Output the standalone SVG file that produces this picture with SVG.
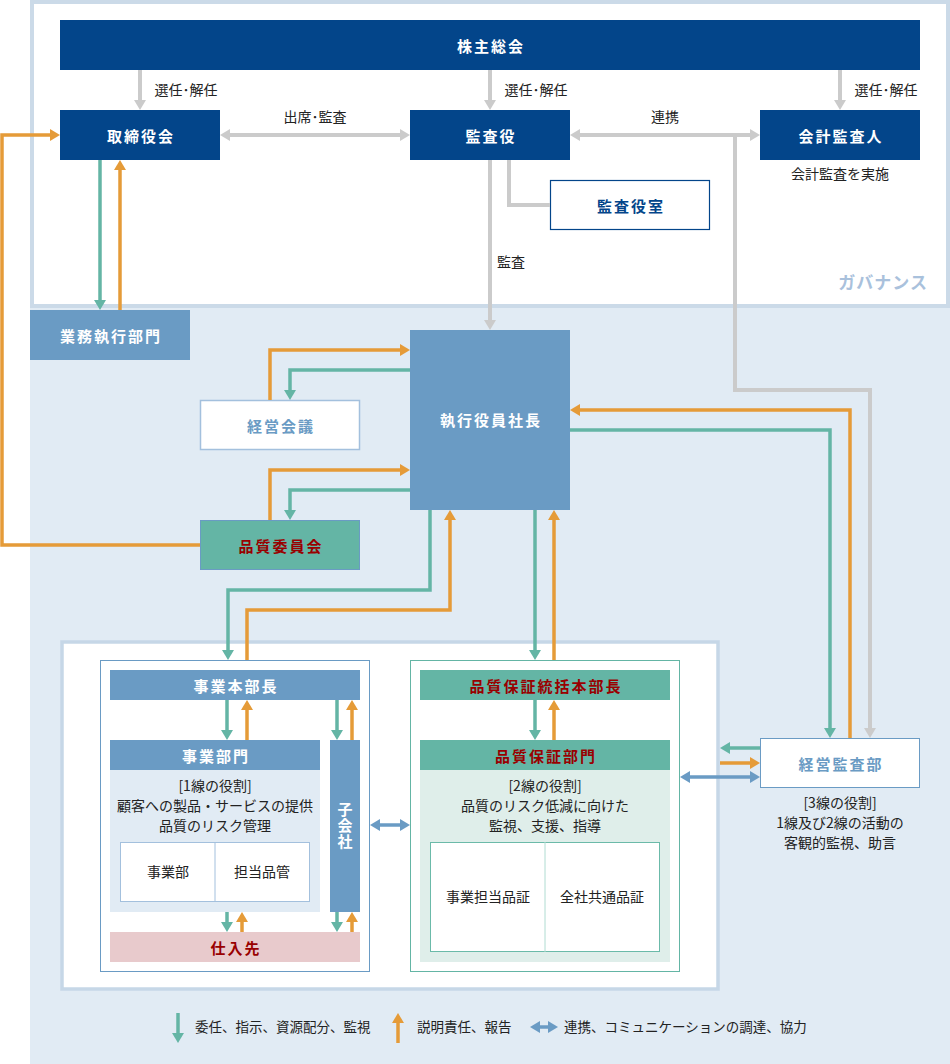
<svg xmlns="http://www.w3.org/2000/svg" width="950" height="1064" viewBox="0 0 950 1064">
<defs>
<style>
text{font-family:"Noto Sans CJK JP","Noto Sans",sans-serif;}
.nl{font-size:15px;font-weight:bold;text-anchor:middle;dominant-baseline:central;letter-spacing:2px;}
.w{fill:#fff;}
.db{fill:#03458a;}
.mb{fill:#6a9bc4;}
.red{fill:#990000;}
.sm{font-size:14px;fill:#222;text-anchor:middle;}
.lg{font-size:13.5px;fill:#222;}
.cg,.ct,.co,.cb{fill:none;}
.cg{stroke:#cbcbcb;stroke-width:4;}
.ct{stroke:#64b5a5;stroke-width:3.5;}
.co{stroke:#e59b38;stroke-width:3.5;}
.cb{stroke:#6a9bc4;stroke-width:3.5;}
.cg.a{marker-end:url(#ag);}
.cg.aa{marker-start:url(#ag);marker-end:url(#ag);}
.ct.a{marker-end:url(#at);}
.co.a{marker-end:url(#ao);}
.cb.aa{marker-start:url(#ab);marker-end:url(#ab);}
</style>
<marker id="ag" viewBox="0 0 10 12" refX="1" refY="6" markerWidth="10" markerHeight="12" markerUnits="userSpaceOnUse" orient="auto-start-reverse"><path d="M0,0L10,6L0,12z" fill="#cbcbcb"/></marker>
<marker id="at" viewBox="0 0 10 12" refX="1" refY="6" markerWidth="10" markerHeight="12" markerUnits="userSpaceOnUse" orient="auto-start-reverse"><path d="M0,0L10,6L0,12z" fill="#64b5a5"/></marker>
<marker id="ao" viewBox="0 0 10 12" refX="1" refY="6" markerWidth="10" markerHeight="12" markerUnits="userSpaceOnUse" orient="auto-start-reverse"><path d="M0,0L10,6L0,12z" fill="#e59b38"/></marker>
<marker id="ab" viewBox="0 0 10 12" refX="1" refY="6" markerWidth="10" markerHeight="12" markerUnits="userSpaceOnUse" orient="auto-start-reverse"><path d="M0,0L10,6L0,12z" fill="#6a9bc4"/></marker>
</defs>

<rect x="0" y="0" width="950" height="1064" fill="#fff"/>
<rect x="30" y="308" width="920" height="756" fill="#e1ebf4"/>
<g id="governance">
<rect x="32" y="2" width="916" height="304" fill="#fff" stroke="#cbdae8" stroke-width="4"/>
<text x="928" y="289" font-size="17" font-weight="bold" fill="#a9c1dc" text-anchor="end" letter-spacing="1">ガバナンス</text>
</g>
<g id="line-box">
<rect x="62" y="642" width="656" height="347" fill="#fff" stroke="#c6d7e7" stroke-width="3.5"/>
</g>

<g id="n-shareholders">
<rect x="60" y="20" width="860" height="50" class="db"/>
<text class="nl w" x="491" y="45" letter-spacing="4">株主総会</text>
</g>
<g id="n-board">
<rect x="60" y="110" width="160" height="50" class="db"/>
<text class="nl w" x="141" y="135">取締役会</text>
</g>
<g id="n-auditor">
<rect x="410" y="110" width="160" height="50" class="db"/>
<text class="nl w" x="491" y="135">監査役</text>
</g>
<g id="n-accounting-auditor">
<rect x="760" y="110" width="160" height="50" class="db"/>
<text class="nl w" x="841" y="135">会計監査人</text>
<text class="sm" x="840" y="179">会計監査を実施</text>
</g>
<g id="n-audit-office">
<rect x="550.5" y="180.5" width="159" height="49" fill="#fff" stroke="#03458a" stroke-width="1.2"/>
<text class="nl db" x="631" y="205">監査役室</text>
</g>
<g id="n-execution">
<rect x="30" y="310" width="160" height="50" class="mb"/>
<text class="nl w" x="111" y="335">業務執行部門</text>
</g>
<g id="n-president">
<rect x="410" y="330" width="160" height="180" class="mb"/>
<text class="nl w" x="491" y="419">執行役員社長</text>
</g>
<g id="n-management-meeting">
<rect x="200.5" y="400.5" width="159" height="49" fill="#fff" stroke="#a3c0dd" stroke-width="1.5"/>
<text class="nl mb" x="281" y="425">経営会議</text>
</g>
<g id="n-quality-committee">
<rect x="200.5" y="520.5" width="159" height="49" fill="#64b5a5" stroke="#6a9bc4" stroke-width="1"/>
<text class="nl red" x="281" y="545">品質委員会</text>
</g>

<g id="n-first-line">
<rect x="100.5" y="660.5" width="269" height="311" fill="#fff" stroke="#6a9bc4" stroke-width="1"/>
</g>
<g id="n-bu-head">
<rect x="110" y="670" width="250" height="30" class="mb"/>
<text class="nl w" x="236" y="685">事業本部長</text>
</g>
<g id="n-bu-dept">
<rect x="110" y="740" width="210" height="30" class="mb"/>
<rect x="110" y="770" width="210" height="142" fill="#e1ebf4"/>
<text class="nl w" x="216" y="755">事業部門</text>
<text class="sm" x="215" y="791">[1線の役割]</text>
<text class="sm" x="215" y="811">顧客への製品・サービスの提供</text>
<text class="sm" x="215" y="831">品質のリスク管理</text>
<rect x="120.5" y="842.5" width="189" height="59" fill="#fff" stroke="#a3c0dd" stroke-width="1"/>
<line x1="215" y1="842" x2="215" y2="902" stroke="#a3c0dd" stroke-width="1"/>
<text class="sm" x="168" y="877">事業部</text>
<text class="sm" x="262" y="877">担当品管</text>
</g>
<g id="n-subsidiary">
<rect x="330" y="740" width="30" height="172" class="mb"/>
<text x="345" y="826" font-size="15" font-weight="bold" fill="#fff" writing-mode="vertical-rl" text-anchor="middle" letter-spacing="1">子会社</text>
</g>
<g id="n-supplier">
<rect x="110" y="932" width="250" height="30" fill="#e8cacc"/>
<text class="nl red" x="236" y="947">仕入先</text>
</g>

<g id="n-second-line">
<rect x="410.5" y="660.5" width="269" height="311" fill="#fff" stroke="#64b5a5" stroke-width="1"/>
</g>
<g id="n-qa-head">
<rect x="420" y="670" width="250" height="30" fill="#64b5a5"/>
<text class="nl red" x="546" y="685">品質保証統括本部長</text>
</g>
<g id="n-qa-dept">
<rect x="420" y="740" width="250" height="30" fill="#64b5a5"/>
<rect x="420" y="770" width="250" height="192" fill="#dfeeea"/>
<text class="nl red" x="546" y="755">品質保証部門</text>
<text class="sm" x="545" y="791">[2線の役割]</text>
<text class="sm" x="545" y="811">品質のリスク低減に向けた</text>
<text class="sm" x="545" y="831">監視、支援、指導</text>
<rect x="430.5" y="842.5" width="229" height="109" fill="#fff" stroke="#6bbaa9" stroke-width="1"/>
<line x1="545" y1="842" x2="545" y2="952" stroke="#b0dcd2" stroke-width="1"/>
<text class="sm" x="488" y="902">事業担当品証</text>
<text class="sm" x="602" y="902">全社共通品証</text>
</g>

<g id="n-internal-audit">
<rect x="760.5" y="738.5" width="159" height="49" fill="#fff" stroke="#6a9bc4" stroke-width="1"/>
<text class="nl mb" x="841" y="763">経営監査部</text>
<text class="sm" x="840" y="808">[3線の役割]</text>
<text class="sm" x="840" y="828">1線及び2線の活動の</text>
<text class="sm" x="840" y="848">客観的監視、助言</text>
</g>

<g id="connectors">
<path class="cg a" d="M140,70V101"/>
<path class="cg a" d="M490,70V101"/>
<path class="cg a" d="M840,70V101"/>
<path class="cg aa" d="M229,135H401"/>
<path class="cg aa" d="M579,135H751"/>
<path class="cg a" d="M490,160V321"/>
<path class="cg" d="M509,160V205H550"/>
<path class="cg a" d="M735,135V390H870V729"/>

<path class="ct a" d="M100,160V301"/>
<path class="ct a" d="M410,370H290V391"/>
<path class="ct a" d="M410,490H290V511"/>
<path class="ct a" d="M430,510V590H228V651"/>
<path class="ct a" d="M535,510V651"/>
<path class="ct a" d="M570,430H830V729"/>
<path class="ct a" d="M227,700V731"/>
<path class="ct a" d="M337,700V731"/>
<path class="ct a" d="M227,912V923"/>
<path class="ct a" d="M337,912V923"/>
<path class="ct a" d="M535,700V731"/>
<path class="ct a" d="M760,748H729"/>

<path class="co a" d="M120,310V169"/>
<path class="co a" d="M270,400V350H401"/>
<path class="co a" d="M270,520V470H401"/>
<path class="co a" d="M200,545H2V135H51"/>
<path class="co a" d="M247,660V610H450V519"/>
<path class="co a" d="M554,660V519"/>
<path class="co a" d="M850,738V410H579"/>
<path class="co a" d="M247,740V709"/>
<path class="co a" d="M352,740V709"/>
<path class="co a" d="M242,932V921"/>
<path class="co a" d="M352,932V921"/>
<path class="co a" d="M554,740V709"/>
<path class="co a" d="M720,763H751"/>

<path class="cb aa" d="M379,825H401"/>
<path class="cb aa" d="M689,777H751"/>

<text class="sm" x="186" y="95">選任･解任</text>
<text class="sm" x="536" y="95">選任･解任</text>
<text class="sm" x="886" y="95">選任･解任</text>
<text class="sm" x="315" y="122">出席･監査</text>
<text class="sm" x="665" y="122">連携</text>
<text class="sm" x="511" y="267">監査</text>
</g>

<g id="legend">
<path class="ct a" d="M178,1013V1034"/>
<text class="lg" x="195" y="1032">委任、指示、資源配分、監視</text>
<path class="co a" d="M398,1043V1022"/>
<text class="lg" x="417" y="1032">説明責任、報告</text>
<path class="cb aa" d="M539,1027H549"/>
<text class="lg" x="564" y="1032">連携、コミュニケーションの調達、協力</text>
</g>
</svg>
